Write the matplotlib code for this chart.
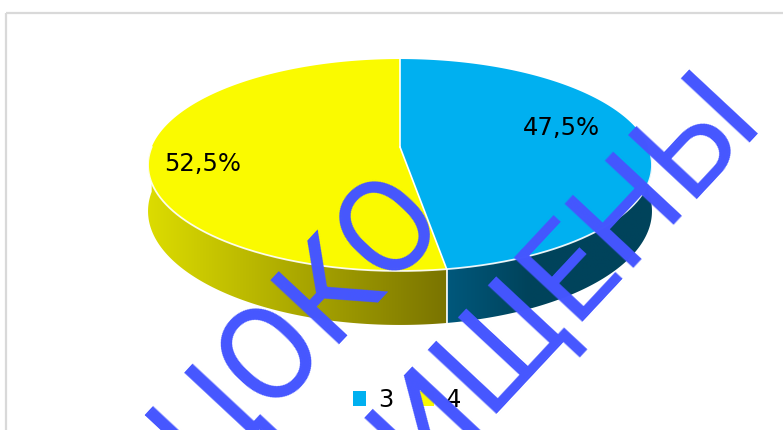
import numpy as np
import matplotlib
matplotlib.use("Agg")
import matplotlib.pyplot as plt
from matplotlib.patches import Polygon, Rectangle, Patch
from matplotlib.colors import LinearSegmentedColormap

# ---------------- data ----------------
categories = ["3", "4"]
values = [47.5, 52.5]
value_labels = ["47,5%", "52,5%"]

# ---------------- style ----------------
top_colors = ["#00b0f0", "#fafa00"]
side_grad = [("#00587c", "#00435b"), ("#dcdc00", "#7a7400")]
LABEL_POLAR = [(74.0, 0.70), (258.0, 0.79)]  # (angle from top clockwise, radius fraction)
WM_COLOR = "#4556ff"

W, H = 783, 430
fig = plt.figure(figsize=(W / 100, H / 100), dpi=100)
ax = fig.add_axes([0, 0, 1, 1])
ax.set_xlim(0, W)
ax.set_ylim(H, 0)
ax.axis("off")

# outer chart frame
ax.add_patch(Rectangle((6, 13), 820, 460, fill=False, ec="#d9d9d9", lw=1.6, zorder=0))

# ---- perspective pie geometry ----
CX, CY = 400.0, 147.0
P, Q, E = 248.3, 102.9, 0.17
H0 = 44.8


def proj(phi_deg, r=1.0, drop=0.0):
    phi = np.radians(phi_deg)
    u = r * np.sin(phi)
    v = -r * np.cos(phi)
    w = 1 - E * v
    return CX + P * u / w, CY + Q * v / w + drop * H0 / w


total = float(sum(values))
bounds = np.concatenate([[0.0], np.cumsum(values) / total * 360.0])

# sides
for i in range(len(values)):
    a, b = max(bounds[i], 90.0), min(bounds[i + 1], 270.0)
    if b <= a:
        continue
    ph = np.linspace(a, b, 200)
    tx, ty = proj(ph)
    bx, by = proj(ph[::-1], drop=1.0)
    poly = Polygon(np.column_stack([np.r_[tx, bx], np.r_[ty, by]]), closed=True,
                   fc="none", ec="none", zorder=1)
    ax.add_patch(poly)
    xmin, xmax = min(tx.min(), bx.min()), max(tx.max(), bx.max())
    ymin, ymax = min(ty.min(), by.min()), max(ty.max(), by.max())
    c0, c1 = side_grad[i]
    cmap = LinearSegmentedColormap.from_list("g%d" % i, [c0, c1])
    if i == 0:
        grad = np.clip(np.linspace(0, 1, 256) * 2.5, 0, 1)[None, :]
    else:
        grad = np.linspace(0, 1, 256)[None, :]
    im = ax.imshow(grad, cmap=cmap, extent=(xmin, xmax, ymax, ymin), aspect="auto",
                   zorder=1, interpolation="bilinear")
    im.set_clip_path(poly)

# vertical edges between slices on the front
for bd in bounds[1:-1]:
    if 90 < bd < 270:
        x0, y0 = proj(bd)
        x1, y1 = proj(bd, drop=1.0)
        ax.plot([x0, x1], [y0, y1], color="white", lw=1.2, zorder=2)

# top faces
for i in range(len(values)):
    ph = np.linspace(bounds[i], bounds[i + 1], 300)
    tx, ty = proj(ph)
    ax.add_patch(Polygon(np.column_stack([np.r_[CX, tx], np.r_[CY, ty]]), closed=True,
                         fc=top_colors[i], ec="none", zorder=3))

# white rim highlight on front and radial slice borders
ph = np.linspace(90, 270, 300)
tx, ty = proj(ph)
ax.plot(tx, ty, color="white", lw=1.3, zorder=4, alpha=0.9)
for bd in bounds[:-1]:
    x1, y1 = proj(bd)
    ax.plot([CX, x1], [CY, y1], color="white", lw=1.2, zorder=4)

# data labels
for (ang, rr), lab in zip(LABEL_POLAR, value_labels):
    lx, ly = proj(ang, r=rr)
    ax.text(lx, ly, lab, ha="center", va="center", fontsize=17.5, color="black",
            family="DejaVu Sans", zorder=5)

# legend
handles = [Patch(facecolor=c, edgecolor="none") for c in top_colors]
leg = ax.legend(handles, categories, loc="center", bbox_to_anchor=(407 / W, 1 - 400 / H),
                ncol=2, frameon=False, fontsize=17.5, handlelength=0.55, handleheight=0.55,
                handletextpad=0.5, columnspacing=1.1, borderpad=0)
leg.set_zorder(5)

# watermark
ax.text(447, 216, "ЦОКО", rotation=47, rotation_mode="anchor", ha="right", va="baseline",
        fontsize=94, family="Roboto", color=WM_COLOR, zorder=10)
ax.text(765, 120, "ЗАЩИЩЕНЫ", rotation=47, rotation_mode="anchor", ha="right", va="baseline",
        fontsize=94, family="Roboto", color=WM_COLOR, zorder=10)

fig.savefig("out.png", dpi=100)
